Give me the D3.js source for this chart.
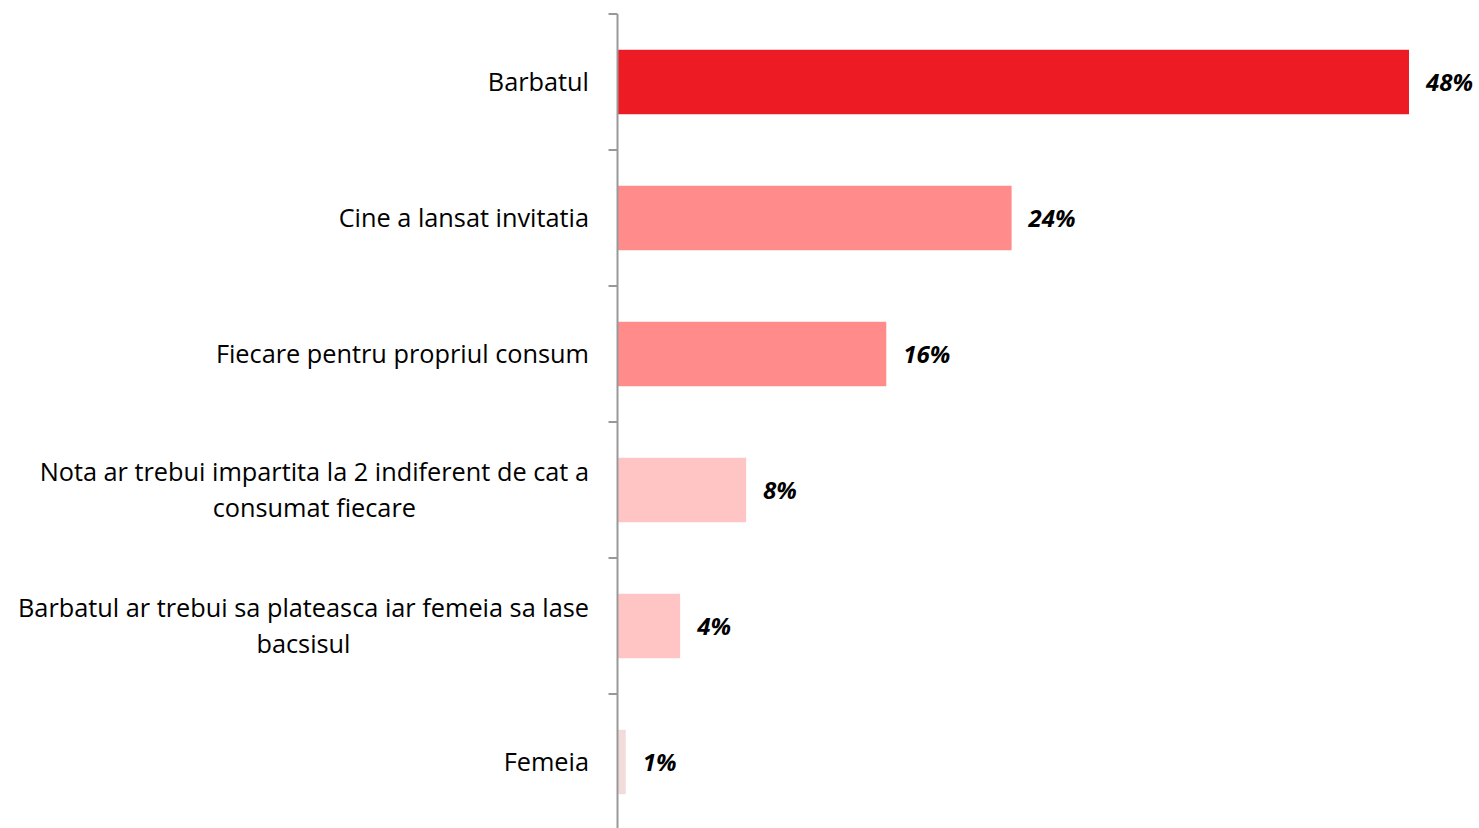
<html>
  <head>
    <meta charset="utf-8">
    <script src="https://d3js.org/d3.v7.min.js"></script>
    <style>
      body { margin: 0; background: #fff; }
    </style>
  </head>
  <body>
    <script>
      var w = 1479;
      var h = 828;

      // categories, top to bottom
      var categories = [
        "Barbatul",
        "Cine a lansat invitatia",
        "Fiecare pentru propriul consum",
        "Nota ar trebui impartita la 2 indiferent de cat a consumat fiecare",
        "Barbatul ar trebui sa plateasca iar femeia sa lase bacsisul",
        "Femeia"
      ];
      var values = [48, 23.9, 16.3, 7.8, 3.8, 0.5];
      var colors = ["#ED1C24", "#FF8B8B", "#FF8B8B", "#FFC5C5", "#FFC5C5", "#F2DCDB"];

      var svg = d3.select("body")
        .append("svg")
        .attr("width", w)
        .attr("height", h);

      var axisX = 617.5;

      var x = d3.scaleLinear()
        .domain([0, 48])
        .range([axisX, 1409]);

      var y = d3.scaleBand()
        .domain(categories)
        .range([14, 830])
        .paddingInner(0.526)
        .paddingOuter(0.263);

      // bars
      svg.selectAll(".bar")
        .data(values)
        .enter()
        .append("rect")
        .attr("class", "bar")
        .attr("x", x(0))
        .attr("y", function(d, i){ return y(categories[i]); })
        .attr("width", function(d){ return x(d) - x(0); })
        .attr("height", y.bandwidth())
        .attr("fill", function(d, i){ return colors[i]; });

      // axis line + ticks at band edges
      var gap = y.step() * y.paddingInner() / 2;
      var tickYs = categories.map(function(c){ return y(c) - gap; });
      tickYs.push(y(categories[categories.length - 1]) + y.bandwidth() + gap);

      svg.append("line")
        .attr("x1", axisX).attr("x2", axisX)
        .attr("y1", tickYs[0]).attr("y2", h)
        .attr("stroke", "#999")
        .attr("stroke-width", 2);

      svg.selectAll(".tick")
        .data(tickYs)
        .enter()
        .append("line")
        .attr("class", "tick")
        .attr("x1", axisX - 9).attr("x2", axisX)
        .attr("y1", function(d){ return d; })
        .attr("y2", function(d){ return d; })
        .attr("stroke", "#999")
        .attr("stroke-width", 2);

      // value labels
      svg.selectAll(".val")
        .data(values)
        .enter()
        .append("text")
        .attr("class", "val")
        .attr("x", function(d){ return x(d) + 17; })
        .attr("y", function(d, i){ return y(categories[i]) + y.bandwidth() / 2; })
        .attr("dy", "0.36em")
        .attr("font-family", "'Open Sans', sans-serif")
        .attr("font-size", "24px")
        .attr("font-weight", "bold")
        .attr("font-style", "italic")
        .attr("fill", "#000")
        .text(function(d){ return Math.round(d) + "%"; });

      // category labels, wrapped, lines centred within a right-aligned block
      var labelRight = 589;
      var maxW = 590;
      var lineH = 36;
      categories.forEach(function(c, i){
        var g = svg.append("g");
        var t = g.append("text")
          .attr("font-family", "'Open Sans', sans-serif")
          .attr("font-size", "25.3px")
          .attr("fill", "#000");
        var words = c.split(" ");
        var lines = [];
        var cur = [];
        words.forEach(function(wd){
          cur.push(wd);
          t.text(cur.join(" "));
          if (t.node().getComputedTextLength() > maxW && cur.length > 1) {
            cur.pop();
            lines.push(cur.join(" "));
            cur = [wd];
          }
        });
        lines.push(cur.join(" "));
        t.text(null);
        var widths = lines.map(function(l){
          t.text(l);
          return t.node().getComputedTextLength();
        });
        t.text(null);
        var bw = d3.max(widths);
        var cx = labelRight - bw / 2;
        var cy = y(c) + y.bandwidth() / 2;
        lines.forEach(function(l, k){
          t.append("tspan")
            .attr("x", cx)
            .attr("y", cy + (k - (lines.length - 1) / 2) * lineH)
            .attr("dy", "0.35em")
            .attr("text-anchor", "middle")
            .text(l);
        });
      });
    </script>
  </body>
</html>
